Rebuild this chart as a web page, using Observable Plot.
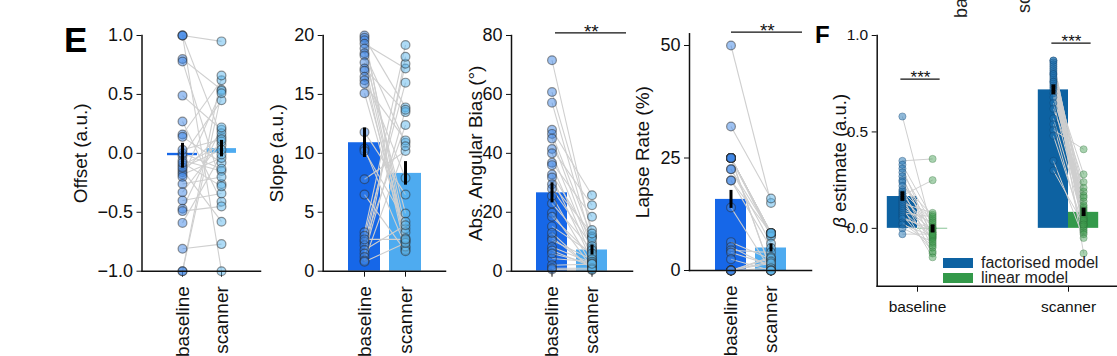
<!DOCTYPE html>
<html><head><meta charset="utf-8">
<script src="https://cdn.jsdelivr.net/npm/d3@7"></script>
<script src="https://cdn.jsdelivr.net/npm/@observablehq/plot@0.6"></script>
<style>
html, body { margin: 0; padding: 0; background: #fff; }
#fig { position: relative; width: 1117px; height: 356px; overflow: hidden; background: #fff; font-family: "Liberation Sans", Arial, sans-serif; }
#fig svg.panel { position: absolute; top: 0; }
.letter { position: absolute; font-weight: bold; color: #000; line-height: 1; font-family: "Liberation Sans", Arial, sans-serif; }
.cut { position: absolute; transform-origin: left top; transform: rotate(-90deg); font-size: 18px; line-height: 1; color: #222; white-space: nowrap; font-family: "Liberation Sans", Arial, sans-serif; }
.pE g[aria-label="y-axis label"] { font-size: 19px; }
.pE g[aria-label="x-axis tick label"] { font-size: 19px; }
.pF g[aria-label="y-axis label"] { font-size: 18.5px; }
.legwrap, .legwrap * { white-space: nowrap; overflow: visible !important; text-overflow: clip !important; }
</style></head>
<body><div id="fig"></div>
<script>
// ---------- categories / labels ----------
const conditions = ["baseline", "scanner"];
const models = ["factorised model", "linear model"];

// ---------- E: Offset ----------
const offsetBaseline = [1.0, 1.0, 1.0, 0.8, 0.78, 0.49, 0.27, 0.16, 0.14, -0.02, -0.06, -0.1, -0.14, -0.16, -0.18, -0.2, -0.26, -0.33, -0.4, -0.47, -0.49, -0.59, -0.81, -1.0, -1.0, 0.0, -0.12, -0.08, 0.03];
const offsetScanner  = [0.95, -1.0, 0.14, 0.54, -0.26, 0.2, -0.41, 0.62, -0.08, 0.45, -0.15, 0.07, -0.58, 0.17, -0.04, 0.53, -0.2, 0.1, -0.34, 0.22, -0.45, -0.01, -0.77, 0.51, 0.66, -0.13, 0.03, -0.28, 0.12];
const offsetMean = [-0.02, 0.04];
const offsetSem = [0.105, 0.07];
const offsetTicks = [-1, -0.5, 0, 0.5, 1];

// ---------- E: Slope ----------
const slopeBaseline = [20.0, 19.8, 19.6, 19.3, 18.9, 18.5, 18.3, 17.7, 17.2, 17.0, 16.5, 16.2, 15.9, 15.1, 11.8, 10.4, 10.2, 7.8, 6.5, 3.3, 3.0, 2.5, 2.2, 1.8, 1.5, 1.2, 0.9, 0.8, 2.7];
const slopeScanner  = [2.6, 13.9, 3.6, 17.2, 2.0, 10.9, 4.9, 2.5, 13.5, 1.8, 7.9, 3.3, 11.1, 2.8, 6.5, 2.1, 4.2, 10.2, 1.7, 19.2, 16.0, 12.4, 17.6, 3.9, 13.7, 18.2, 10.6, 2.4, 2.7];
const slopeMean = [10.9, 8.3];
const slopeSem = [1.25, 1.0];
const slopeTicks = [0, 5, 10, 15, 20];

// ---------- E: Abs. angular bias ----------
const biasBaseline = [71.6, 60.8, 57.2, 48.0, 46.6, 45.0, 41.5, 40.0, 36.8, 36.0, 32.8, 31.8, 29.5, 28.0, 25.5, 23.0, 19.8, 18.5, 15.2, 11.5, 10.5, 8.2, 7.0, 4.3, 2.0, 0.6, 1.0, 13.0, 6.0];
const biasScanner  = [12.0, 14.0, 9.5, 25.8, 11.6, 7.8, 22.4, 6.8, 18.5, 4.5, 11.0, 3.5, 12.8, 8.5, 2.0, 7.2, 1.2, 5.2, 6.0, 0.9, 4.0, 2.8, 1.6, 3.2, 2.4, 0.4, 1.0, 0.6, 2.5];
const biasMean = [26.6, 7.2];
const biasSem = [3.4, 1.7];
const biasTicks = [0, 20, 40, 60, 80];
const biasSig = "**";

// ---------- E: Lapse rate ----------
const lapseBaseline = [50, 32, 25, 25, 25, 25, 25, 25, 25, 25, 25, 22.5, 22.5, 20, 20, 14, 6.3, 5.2, 4.5, 4, 2.5, 0, 0, 0, 0, 0, 0, 0, 25];
const lapseScanner  = [15, 16, 8.3, 8.3, 8.3, 8.3, 8.3, 8.3, 7.8, 7.5, 0, 6, 8.3, 8.3, 5, 0, 2.5, 0.8, 4, 1.2, 0, 3, 2.7, 2, 1.6, 0.5, 0, 0, 0];
const lapseMean = [15.8, 5.0];
const lapseSem = [2.0, 0.9];
const lapseTicks = [0, 25, 50];
const lapseSig = "**";

// ---------- F: beta estimates ----------
const betaFactorisedBaseline = [0.58, 0.35, 0.33, 0.31, 0.29, 0.27, 0.25, 0.24, 0.22, 0.2, 0.19, 0.18, 0.17, 0.16, 0.15, 0.14, 0.13, 0.12, 0.11, 0.1, 0.09, 0.08, 0.07, 0.06, 0.05, 0.03, 0.02, 0.0, -0.03];
const betaLinearBaseline     = [-0.02, 0.36, 0.05, -0.05, 0.02, -0.08, 0.0, -0.03, 0.07, -0.1, 0.04, -0.04, 0.25, -0.13, 0.01, -0.06, 0.08, -0.01, -0.15, 0.03, -0.05, 0.06, -0.12, -0.02, 0.0, -0.09, -0.04, -0.07, -0.03];
const betaFactorisedScanner  = [0.87, 0.87, 0.86, 0.85, 0.84, 0.83, 0.82, 0.81, 0.8, 0.8, 0.79, 0.78, 0.77, 0.76, 0.76, 0.75, 0.74, 0.73, 0.72, 0.7, 0.68, 0.65, 0.62, 0.57, 0.54, 0.51, 0.48, 0.35, 0.3];
const betaLinearScanner      = [0.1, 0.02, 0.14, -0.02, 0.07, 0.19, 0.04, -0.13, 0.09, 0.05, 0.17, 0.0, 0.11, 0.06, 0.28, -0.01, 0.12, 0.03, 0.24, 0.08, 0.16, 0.05, 0.21, 0.04, -0.03, 0.41, 0.01, -0.05, 0.02];
const betaFactorisedMean = [0.165, 0.718];
const betaFactorisedSem = [0.025, 0.026];
const betaLinearMean = [-0.003, 0.083];
const betaLinearSem = [0.021, 0.022];
const betaTicks = [0, 0.5, 1.0];
const betaSig = ["***", "***"];

// ---------- styling ----------
const barColors = ["#1667e8", "#4eabf0"];
const dotColors = ["#3e86e6", "#5db8ee"];
const modelColors = ["#0d62a2", "#33994a"];
const linkColor = "#cfcfcf";
const FONT = '"Liberation Sans", Arial, Helvetica, sans-serif';

const fig = document.getElementById("fig");

function place(svg, left, cls) {
  svg.classList.add("panel", cls);
  svg.style.left = left + "px";
  fig.appendChild(svg);
}

function panelE(cfg) {
  const subjects = cfg.base.map((b, i) => ({b, s: cfg.scan[i]}));
  const summary = conditions.map((c, i) => ({cond: c, mean: cfg.mean[i], lo: cfg.mean[i] - cfg.sem[i], hi: cfg.mean[i] + cfg.sem[i]}));
  const pts = (vals, c) => vals.map(v => ({cond: c, v}));
  const top = cfg.domain[1];
  const marks = [
    Plot.barY(summary, {x: "cond", y: "mean", fill: "cond"}),
    Plot.link(subjects, {x1: () => "baseline", x2: () => "scanner", y1: "b", y2: "s", stroke: linkColor, strokeWidth: 1.1}),
    Plot.dot(pts(cfg.base, "baseline"), {x: "cond", y: "v", r: 4.4, fill: dotColors[0], fillOpacity: 0.5, stroke: "#2b2b2b", strokeOpacity: 0.5, strokeWidth: 1.2}),
    Plot.dot(pts(cfg.scan, "scanner"), {x: "cond", y: "v", r: 4.4, fill: dotColors[1], fillOpacity: 0.5, stroke: "#2b2b2b", strokeOpacity: 0.5, strokeWidth: 1.2}),
    Plot.ruleX(summary, {x: "cond", y1: "lo", y2: "hi", stroke: "#000", strokeWidth: 3}),
    Plot.frame({anchor: "left", stroke: "#111", strokeWidth: 1.5}),
    Plot.frame({anchor: "bottom", stroke: "#111", strokeWidth: 1.5})
  ];
  if (cfg.sig) {
    marks.push(
      Plot.ruleY([top], {x1: () => "baseline", x2: () => "scanner", dx: cfg.sigShift, dy: cfg.sigDy, stroke: "#111", strokeWidth: 1.3}),
      Plot.text([cfg.sig], {x: () => "baseline", y: () => top, text: d => d, dx: cfg.sigShift + 20.3, dy: cfg.sigDy + 5, lineAnchor: "bottom", fontSize: 19, letterSpacing: 1, fill: "#111"})
    );
  }
  const svg = Plot.plot({
    width: cfg.width, height: 356,
    marginLeft: cfg.marginLeft, marginRight: 2,
    marginTop: cfg.marginTop, marginBottom: cfg.marginBottom,
    style: {fontFamily: FONT, fontSize: "18px", background: "transparent", overflow: "visible", color: "#111"},
    x: {type: "band", domain: conditions, paddingInner: 0.22, paddingOuter: 0.6, align: 0.51,
        tickRotate: -90, tickSize: 6, tickPadding: 9, label: null},
    y: {domain: cfg.domain, ticks: cfg.ticks, tickFormat: cfg.fmt, tickSize: 5, tickPadding: 4,
        label: cfg.label, labelAnchor: "center", labelOffset: cfg.labelOffset, labelArrow: false},
    color: {domain: conditions, range: barColors},
    marks
  });
  place(svg, cfg.left, "pE");
}

panelE({left: 40, width: 222, marginLeft: 101.5, marginTop: 35, marginBottom: 85.3,
  base: offsetBaseline, scan: offsetScanner, mean: offsetMean, sem: offsetSem,
  domain: [-1, 1], ticks: offsetTicks, fmt: d3.format(".1f"), label: "Offset (a.u.)", labelOffset: 69});
panelE({left: 262, width: 185, marginLeft: 60.7, marginTop: 35, marginBottom: 85.3,
  base: slopeBaseline, scan: slopeScanner, mean: slopeMean, sem: slopeSem,
  domain: [0, 20], ticks: slopeTicks, fmt: d3.format("d"), label: "Slope (a.u.)", labelOffset: 54});
panelE({left: 447, width: 187, marginLeft: 64, marginTop: 35, marginBottom: 85.3,
  base: biasBaseline, scan: biasScanner, mean: biasMean, sem: biasSem,
  domain: [0, 80], ticks: biasTicks, fmt: d3.format("d"), label: "Abs. Angular Bias (°)", labelOffset: 43,
  sig: biasSig, sigShift: 19, sigDy: -2.7});
panelE({left: 634, width: 179, marginLeft: 55, marginTop: 33.3, marginBottom: 86,
  base: lapseBaseline, scan: lapseScanner, mean: lapseMean, sem: lapseSem,
  domain: [0, 52.6], ticks: lapseTicks, fmt: d3.format("d"), label: "Lapse Rate (%)", labelOffset: 54,
  sig: lapseSig, sigShift: 16, sigDy: -1.6});

// ---------- panel F ----------
(function panelF() {
  const off = 0.1, bw = 0.2;
  const fac = [betaFactorisedBaseline, betaFactorisedScanner];
  const lin = [betaLinearBaseline, betaLinearScanner];
  const links = conditions.flatMap((c, ci) => fac[ci].map((f, i) => ({x1: ci - off, x2: ci + off, y1: f, y2: lin[ci][i]})));
  const facPts = conditions.flatMap((c, ci) => fac[ci].map(v => ({x: ci - off, v})));
  const linPts = conditions.flatMap((c, ci) => lin[ci].map(v => ({x: ci + off, v})));
  const facSum = conditions.map((c, ci) => ({x1: ci - bw, x2: ci, xc: ci - off, m: betaFactorisedMean[ci], lo: betaFactorisedMean[ci] - betaFactorisedSem[ci], hi: betaFactorisedMean[ci] + betaFactorisedSem[ci]}));
  const linSum = conditions.map((c, ci) => ({x1: ci, x2: ci + bw, xc: ci + off, m: betaLinearMean[ci], lo: betaLinearMean[ci] - betaLinearSem[ci], hi: betaLinearMean[ci] + betaLinearSem[ci]}));
  const sigY = [0.774, 0.96];
  const sigs = conditions.map((c, ci) => ({x1: ci - 0.13, x2: ci + 0.13, xc: ci, y: sigY[ci], t: betaSig[ci]}));
  const svg = Plot.plot({
    width: 304, height: 356,
    marginLeft: 63.7, marginRight: 0, marginTop: 35, marginBottom: 70.3,
    style: {fontFamily: FONT, fontSize: "15.5px", background: "transparent", overflow: "visible", color: "#111"},
    x: {domain: [-0.2669, 1.3245], ticks: [0, 1], tickFormat: i => conditions[i], tickSize: 6, tickPadding: 9, label: null},
    y: {domain: [-0.3, 1.0], ticks: betaTicks, tickFormat: d3.format(".1f"), tickSize: 5, tickPadding: 4,
        label: "β estimate (a.u.)", labelAnchor: "center", labelOffset: 44, labelArrow: false},
    marks: [
      Plot.rectY(facSum, {x1: "x1", x2: "x2", y: "m", fill: modelColors[0]}),
      Plot.rectY(linSum, {x1: "x1", x2: "x2", y: "m", fill: modelColors[1]}),
      Plot.link(links, {x1: "x1", x2: "x2", y1: "y1", y2: "y2", stroke: linkColor, strokeWidth: 1}),
      Plot.dot(facPts, {x: "x", y: "v", r: 3.6, fill: "#1f74b4", fillOpacity: 0.5, stroke: "#0b3d66", strokeOpacity: 0.35, strokeWidth: 1}),
      Plot.dot(linPts, {x: "x", y: "v", r: 3.6, fill: "#3d9c4e", fillOpacity: 0.45, stroke: "#2a6a35", strokeOpacity: 0.3, strokeWidth: 1}),
      Plot.ruleX(facSum, {x: "xc", y1: "lo", y2: "hi", stroke: "#000", strokeWidth: 4}),
      Plot.ruleX(linSum, {x: "xc", y1: "lo", y2: "hi", stroke: "#000", strokeWidth: 4}),
      Plot.ruleY(sigs, {x1: "x1", x2: "x2", y: "y", dx: 3, stroke: "#111", strokeWidth: 1.3}),
      Plot.text(sigs, {x: "xc", y: "y", text: "t", dx: 3, dy: 3.5, lineAnchor: "bottom", fontSize: 17, letterSpacing: 0.5, fill: "#111"}),
      Plot.frame({anchor: "left", stroke: "#111", strokeWidth: 1.5}),
      Plot.frame({anchor: "bottom", stroke: "#111", strokeWidth: 1.5})
    ]
  });
  // italic beta in the axis label
  svg.querySelectorAll("text").forEach(t => {
    if (t.textContent === "β estimate (a.u.)") {
      t.textContent = "";
      const ns = "http://www.w3.org/2000/svg";
      const a = document.createElementNS(ns, "tspan"); a.setAttribute("font-style", "italic"); a.textContent = "β";
      const b = document.createElementNS(ns, "tspan"); b.textContent = " estimate (a.u.)";
      t.appendChild(a); t.appendChild(b);
    }
  });
  place(svg, 813, "pF");

  const legend = Plot.legend({
    color: {type: "ordinal", domain: models, range: modelColors},
    legend: "swatches", columns: 1, swatchWidth: 30, swatchHeight: 10,
    style: {fontFamily: FONT, fontSize: "16px", lineHeight: "14px", margin: "0", color: "#222", width: "170px"}
  });
  const wrap = document.createElement("div");
  wrap.className = "legwrap";
  wrap.style.cssText = "position:absolute;left:943px;top:256px;width:170px;";
  wrap.appendChild(legend);
  fig.appendChild(wrap);
})();

// ---------- panel letters and cut-off labels of the panel above ----------
function addDiv(cls, text, css) {
  const d = document.createElement("div");
  d.className = cls; d.textContent = text; d.style.cssText += css;
  fig.appendChild(d);
}
addDiv("letter", "E", "left:64px;top:22px;font-size:35px;");
addDiv("letter", "F", "left:815px;top:22.5px;font-size:24px;");
addDiv("cut", "baseline", "left:952px;top:18px;");
addDiv("cut", "scanner", "left:1015px;top:13px;");
</script></body></html>
